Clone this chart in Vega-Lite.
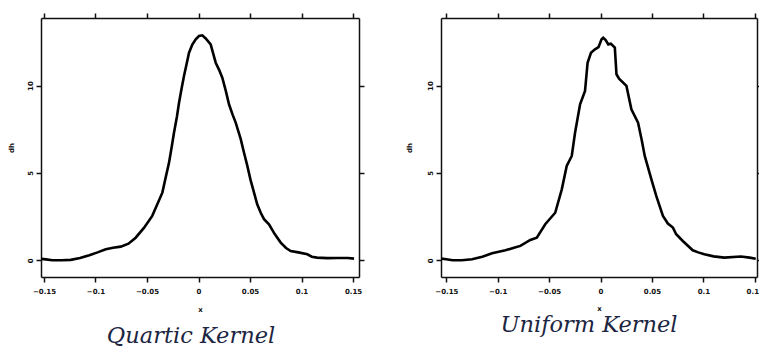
{
  "$schema": "https://vega.github.io/schema/vega-lite/v6.json",
  "padding": {"left": 7, "top": 12, "right": 0, "bottom": 0},
  "background": "white",
  "spacing": 40,
  "datasets": {
    "quartic": [
      {"x": -0.153, "y": 0.08}, {"x": -0.148, "y": 0.05}, {"x": -0.142, "y": 0.0}, {"x": -0.133, "y": 0.0},
      {"x": -0.124, "y": 0.02}, {"x": -0.115, "y": 0.13}, {"x": -0.106, "y": 0.29}, {"x": -0.098, "y": 0.45},
      {"x": -0.09, "y": 0.63}, {"x": -0.083, "y": 0.72}, {"x": -0.0755, "y": 0.78}, {"x": -0.068, "y": 0.95},
      {"x": -0.061, "y": 1.29}, {"x": -0.053, "y": 1.85}, {"x": -0.0449, "y": 2.54}, {"x": -0.04, "y": 3.2},
      {"x": -0.0351, "y": 3.87}, {"x": -0.032, "y": 4.7}, {"x": -0.0286, "y": 5.59}, {"x": -0.026, "y": 6.5},
      {"x": -0.0238, "y": 7.3}, {"x": -0.021, "y": 8.2}, {"x": -0.0189, "y": 9.02}, {"x": -0.0165, "y": 9.8},
      {"x": -0.0141, "y": 10.55}, {"x": -0.0115, "y": 11.25}, {"x": -0.0092, "y": 11.88}, {"x": -0.006, "y": 12.35},
      {"x": -0.0027, "y": 12.65}, {"x": 0.0005, "y": 12.84}, {"x": 0.0037, "y": 12.88}, {"x": 0.007, "y": 12.7},
      {"x": 0.0118, "y": 12.36}, {"x": 0.0167, "y": 11.31}, {"x": 0.02, "y": 10.9}, {"x": 0.0231, "y": 10.45},
      {"x": 0.0265, "y": 9.7}, {"x": 0.0296, "y": 8.93}, {"x": 0.033, "y": 8.35}, {"x": 0.0361, "y": 7.88},
      {"x": 0.041, "y": 6.93}, {"x": 0.044, "y": 6.2}, {"x": 0.0474, "y": 5.4}, {"x": 0.0505, "y": 4.6},
      {"x": 0.0539, "y": 3.87}, {"x": 0.057, "y": 3.2}, {"x": 0.0604, "y": 2.72}, {"x": 0.0636, "y": 2.35},
      {"x": 0.0684, "y": 2.06}, {"x": 0.074, "y": 1.5}, {"x": 0.0798, "y": 1.01}, {"x": 0.085, "y": 0.7},
      {"x": 0.0895, "y": 0.53}, {"x": 0.097, "y": 0.45}, {"x": 0.1056, "y": 0.34}, {"x": 0.11, "y": 0.2},
      {"x": 0.115, "y": 0.15}, {"x": 0.125, "y": 0.12}, {"x": 0.135, "y": 0.13}, {"x": 0.145, "y": 0.13},
      {"x": 0.151, "y": 0.09}
    ],
    "uniform": [
      {"x": -0.155, "y": 0.09}, {"x": -0.15, "y": 0.06}, {"x": -0.144, "y": 0.0}, {"x": -0.135, "y": 0.0},
      {"x": -0.125, "y": 0.06}, {"x": -0.115, "y": 0.2}, {"x": -0.1055, "y": 0.4}, {"x": -0.0925, "y": 0.57},
      {"x": -0.085, "y": 0.7}, {"x": -0.078, "y": 0.82}, {"x": -0.0683, "y": 1.16}, {"x": -0.062, "y": 1.29},
      {"x": -0.0538, "y": 2.06}, {"x": -0.0441, "y": 2.72}, {"x": -0.0377, "y": 4.06}, {"x": -0.0329, "y": 5.4},
      {"x": -0.028, "y": 5.97}, {"x": -0.0248, "y": 7.3}, {"x": -0.0199, "y": 8.93}, {"x": -0.0151, "y": 9.69},
      {"x": -0.0126, "y": 11.31}, {"x": -0.0093, "y": 11.88}, {"x": -0.0054, "y": 12.08}, {"x": -0.002, "y": 12.2},
      {"x": 0.001, "y": 12.65}, {"x": 0.0026, "y": 12.74}, {"x": 0.005, "y": 12.6}, {"x": 0.0075, "y": 12.36},
      {"x": 0.01, "y": 12.4}, {"x": 0.0139, "y": 12.17}, {"x": 0.0155, "y": 10.65}, {"x": 0.018, "y": 10.4},
      {"x": 0.0252, "y": 9.98}, {"x": 0.03, "y": 8.64}, {"x": 0.0365, "y": 7.88}, {"x": 0.04, "y": 6.9},
      {"x": 0.043, "y": 5.97}, {"x": 0.0494, "y": 4.64}, {"x": 0.0542, "y": 3.68}, {"x": 0.0607, "y": 2.54},
      {"x": 0.0655, "y": 2.1}, {"x": 0.0704, "y": 1.87}, {"x": 0.0736, "y": 1.49}, {"x": 0.08, "y": 1.1},
      {"x": 0.0897, "y": 0.57}, {"x": 0.095, "y": 0.45}, {"x": 0.101, "y": 0.34}, {"x": 0.11, "y": 0.22},
      {"x": 0.1204, "y": 0.15}, {"x": 0.1365, "y": 0.21}, {"x": 0.145, "y": 0.15}, {"x": 0.151, "y": 0.09}
    ]
  },
  "config": {
    "view": {"stroke": null},
    "axis": {
      "domainColor": "#111111", "domainWidth": 1.5,
      "tickColor": "#111111", "tickWidth": 1.5, "tickSize": 5,
      "grid": false,
      "labelFont": "DejaVu Sans", "labelFontSize": 7, "labelFontWeight": "bold", "labelColor": "#111111",
      "titleFont": "DejaVu Sans", "titleFontSize": 7, "titleFontWeight": "bold", "titleColor": "#111111"
    }
  },
  "hconcat": [
    {
      "width": 318, "height": 259,
      "data": {"name": "quartic"},
      "title": {"text": "Quartic Kernel", "orient": "bottom", "anchor": "middle", "dx": -9, "offset": 13,
        "font": "DejaVu Serif", "fontStyle": "italic", "fontWeight": "normal", "fontSize": 22.5, "color": "#1c2541"},
      "layer": [
        {
          "mark": {"type": "line", "color": "#000000", "strokeWidth": 2.6, "clip": true},
          "encoding": {
            "x": {"field": "x", "type": "quantitative",
              "scale": {"domain": [-0.1529, 0.1558], "nice": false, "zero": false},
              "axis": {"orient": "bottom", "values": [-0.15, -0.1, -0.05, 0, 0.05, 0.1, 0.15], "format": "~g", "labelPadding": 5, "titlePadding": 11, "title": "x", "labelFlush": false}},
            "y": {"field": "y", "type": "quantitative",
              "scale": {"domain": [-0.96, 13.87], "nice": false, "zero": false},
              "axis": {"orient": "left", "values": [0, 5, 10], "labelAngle": -90, "labelPadding": 3, "titlePadding": 12, "title": "dh"}}
          }
        },
        {
          "mark": {"type": "line", "opacity": 0},
          "encoding": {
            "x": {"field": "x", "type": "quantitative",
              "scale": {"domain": [-0.1529, 0.1558], "nice": false, "zero": false},
              "axis": {"orient": "top", "values": [-0.15, -0.1, -0.05, 0, 0.05, 0.1, 0.15], "labels": false, "title": null}},
            "y": {"field": "y", "type": "quantitative",
              "scale": {"domain": [-0.96, 13.87], "nice": false, "zero": false},
              "axis": {"orient": "right", "values": [0, 5, 10], "labels": false, "title": null}}
          }
        }
      ],
      "resolve": {"axis": {"x": "independent", "y": "independent"}}
    },
    {
      "width": 316, "height": 259,
      "data": {"name": "uniform"},
      "title": {"text": "Uniform Kernel", "orient": "bottom", "anchor": "middle", "dx": -10, "offset": 3,
        "font": "DejaVu Serif", "fontStyle": "italic", "fontWeight": "normal", "fontSize": 22.5, "color": "#1c2541"},
      "layer": [
        {
          "mark": {"type": "line", "color": "#000000", "strokeWidth": 2.6, "clip": true},
          "encoding": {
            "x": {"field": "x", "type": "quantitative",
              "scale": {"domain": [-0.1552, 0.1522], "nice": false, "zero": false},
              "axis": {"orient": "bottom", "values": [-0.15, -0.1, -0.05, 0, 0.05, 0.1, 0.15], "format": "~g", "labelPadding": 5, "titlePadding": 10, "title": "x", "labelFlush": false}},
            "y": {"field": "y", "type": "quantitative",
              "scale": {"domain": [-0.96, 13.87], "nice": false, "zero": false},
              "axis": {"orient": "left", "values": [0, 5, 10], "labelAngle": -90, "labelPadding": 3, "titlePadding": 14, "title": "dh"}}
          }
        },
        {
          "mark": {"type": "line", "opacity": 0},
          "encoding": {
            "x": {"field": "x", "type": "quantitative",
              "scale": {"domain": [-0.1552, 0.1522], "nice": false, "zero": false},
              "axis": {"orient": "top", "values": [-0.15, -0.1, -0.05, 0, 0.05, 0.1, 0.15], "labels": false, "title": null}},
            "y": {"field": "y", "type": "quantitative",
              "scale": {"domain": [-0.96, 13.87], "nice": false, "zero": false},
              "axis": {"orient": "right", "values": [0, 5, 10], "labels": false, "title": null}}
          }
        }
      ],
      "resolve": {"axis": {"x": "independent", "y": "independent"}}
    }
  ]
}
